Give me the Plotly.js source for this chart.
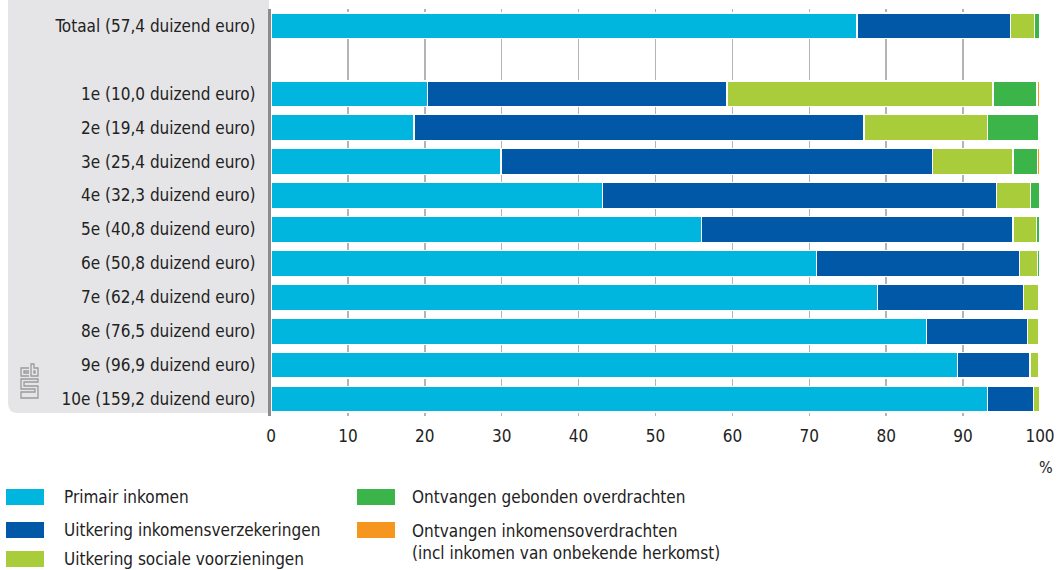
<!DOCTYPE html>
<html><head><meta charset="utf-8">
<script src="https://cdn.plot.ly/plotly-3.0.1.min.js"></script>
<style>html,body{margin:0;padding:0;background:#fff}#chart{width:1064px;height:570px}</style>
</head><body><div id="chart"></div>
<script>
const categories = [
  'Totaal (57,4 duizend euro)', ' ',
  '1e (10,0 duizend euro)', '2e (19,4 duizend euro)', '3e (25,4 duizend euro)',
  '4e (32,3 duizend euro)', '5e (40,8 duizend euro)', '6e (50,8 duizend euro)',
  '7e (62,4 duizend euro)', '8e (76,5 duizend euro)', '9e (96,9 duizend euro)',
  '10e (159,2 duizend euro)'
];
const seriesNames = [
  'Primair inkomen',
  'Uitkering inkomensverzekeringen',
  'Uitkering sociale voorzieningen',
  'Ontvangen gebonden overdrachten',
  'Ontvangen inkomensoverdrachten<br>(incl inkomen van onbekende herkomst)'
];
const primair     = [76.2, null, 20.4, 18.6, 29.9, 43.1, 56.0, 70.9, 78.9, 85.2, 89.3, 93.2];
const verzekering = [20.0, null, 38.9, 58.5, 56.1, 51.2, 40.5, 26.4, 19.0, 13.2,  9.4,  6.0];
const sociaal     = [ 3.1, null, 34.6, 16.1, 10.5,  4.5,  3.0,  2.4,  1.9,  1.4,  1.1,  0.7];
const gebonden    = [ 0.6, null,  5.7,  6.6,  3.2,  1.1,  0.4,  0.2,  0.1,  0.1,  0.1,  0.05];
const ontvangen   = [ 0.1, null,  0.4,  0.2,  0.3,  0.1,  0.1,  0.1,  0.1,  0.1,  0.1,  0.05];
const xTicks = [0, 10, 20, 30, 40, 50, 60, 70, 80, 90, 100];
const colors = ['#00b5de', '#0058a7', '#a9cd3a', '#3bb54a', '#f7961f'];
const seriesValues = [primair, verzekering, sociaal, gebonden, ontvangen];

const FONT = '"DejaVu Sans Condensed", "Liberation Sans Narrow", "Roboto", sans-serif';
const TXT = '#222222';

const traces = seriesValues.map((vals, i) => ({
  type: 'bar', orientation: 'h',
  name: seriesNames[i], x: vals, y: categories,
  marker: {color: colors[i], line: {color: '#ffffff', width: 1.2}},
  showlegend: false,
  hoverinfo: 'x+name'
}));

// pixel helpers for paper coordinates
const L = 271, R = 1040, T = 9, B = 416;
const px = x => (x - L) / (R - L);
const py = y => 1 - (y - T) / (B - T);
const P = (x, y) => px(x) + ',' + py(y);

const panelPath = 'M' + P(8, 0) + ' L' + P(269, 0) + ' L' + P(269, 413) +
  ' L' + P(18, 413) + ' Q' + P(8, 413) + ' ' + P(8, 403) + ' Z';

// CBS logo outline (decorative)
const logoPaths = [
  'M' + P(29, 368) + ' L' + P(21, 368) + ' L' + P(21, 376) + ' L' + P(29, 376),
  'M' + P(29, 371) + ' L' + P(24, 371) + ' L' + P(24, 373) + ' L' + P(29, 373),
  'M' + P(31, 364) + ' L' + P(31, 376) + ' L' + P(38, 376) + ' L' + P(38, 368) + ' L' + P(34, 368) + ' L' + P(34, 364) + ' Z',
  'M' + P(34, 371) + ' L' + P(35, 371) + ' L' + P(35, 373) + ' L' + P(34, 373) + ' Z',
  'M' + P(38, 379) + ' L' + P(21, 379) + ' L' + P(21, 389) + ' L' + P(35, 389) + ' L' + P(35, 392) + ' L' + P(21, 392) + ' L' + P(21, 398) + ' L' + P(38, 398) + ' L' + P(38, 386) + ' L' + P(24, 386) + ' L' + P(24, 382) + ' L' + P(38, 382) + ' Z'
];

const shapes = [
  {type: 'path', xref: 'paper', yref: 'paper', path: panelPath,
   fillcolor: '#e5e5e7', line: {width: 0}, layer: 'below'}
].concat(logoPaths.map(p => ({type: 'path', xref: 'paper', yref: 'paper', path: p,
   line: {color: '#9a9a9a', width: 1.3}, layer: 'below'})));

// legend (two columns)
const legendPos = [
  {sx: 6, tx: 62, y: 497}, {sx: 6, tx: 62, y: 530}, {sx: 6, tx: 62, y: 559},
  {sx: 357, tx: 410, y: 497}, {sx: 357, tx: 410, y: 530}
];
const annotations = [
  {xref: 'paper', yref: 'paper', x: px(1055), y: py(467), text: '%', showarrow: false,
   xanchor: 'right', yanchor: 'middle', font: {family: FONT, size: 16, color: TXT}}
];
seriesNames.forEach((n, i) => {
  const lp = legendPos[i];
  shapes.push({type: 'rect', xref: 'paper', yref: 'paper',
    x0: px(lp.sx), x1: px(lp.sx + 38), y0: py(lp.y - 8), y1: py(lp.y + 8),
    fillcolor: colors[i], line: {width: 0}});
  const multi = n.indexOf('<br>') >= 0;
  annotations.push({xref: 'paper', yref: 'paper', x: px(lp.tx),
    y: multi ? py(lp.y - 11) : py(lp.y), text: n, showarrow: false, align: 'left',
    xanchor: 'left', yanchor: multi ? 'top' : 'middle',
    font: {family: FONT, size: 17, color: TXT}});
});

const layout = {
  width: 1064, height: 570,
  margin: {l: L, r: 1064 - R, t: T, b: 570 - B, autoexpand: false},
  paper_bgcolor: '#ffffff', plot_bgcolor: 'rgba(0,0,0,0)',
  barmode: 'stack', bargap: 0.24,
  font: {family: FONT, size: 17, color: TXT},
  showlegend: false,
  xaxis: {
    range: [0, 100], tickvals: xTicks, ticktext: xTicks.map(String),
    showgrid: true, gridcolor: '#b4b4b4', gridwidth: 1.5,
    zeroline: false, showline: false, ticks: '', automargin: false,
    tickfont: {family: FONT, size: 17, color: TXT}, ticklabelstandoff: 8
  },
  yaxis: {
    categoryorder: 'array', categoryarray: categories, autorange: 'reversed',
    showgrid: false, zeroline: false, showline: true, linecolor: '#8c8c8c', linewidth: 3,
    ticks: '', ticklabelstandoff: 9, automargin: false,
    tickfont: {family: FONT, size: 17, color: TXT}
  },
  shapes: shapes,
  annotations: annotations
};

Plotly.newPlot('chart', traces, layout, {displayModeBar: false, staticPlot: true});
</script></body></html>
